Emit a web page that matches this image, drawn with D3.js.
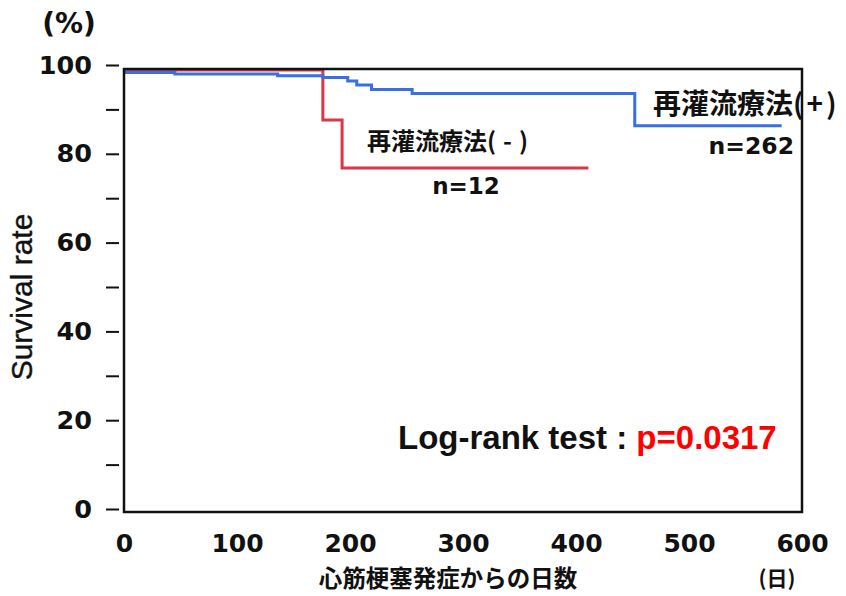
<!DOCTYPE html>
<html><head><meta charset="utf-8">
<script src="https://cdn.jsdelivr.net/npm/d3@7"></script>
<style>body{margin:0;background:#fff}svg{display:block}</style>
</head><body>
<svg id="c" width="846" height="596"></svg>
<script>
// ---- data ----
const blueDays = [0, 45, 136, 176, 198, 206, 219, 255, 452, 582];
const blueSurv = [98.3, 98.0, 97.6, 97.2, 96.4, 95.5, 94.5, 93.6, 86.3, 86.3];
const redDays = [0, 176, 193, 411];
const redSurv = [98.9, 87.6, 76.8, 76.8];
const yTicks = [0, 10, 20, 30, 40, 50, 60, 70, 80, 90, 100];
const yLabels = [0, 20, 40, 60, 80, 100];
const xTicks = [0, 100, 200, 300, 400, 500, 600];
const labelPlus = "再灌流療法";
const labelMinus = "再灌流療法";
const nPlus = "n=262";
const nMinus = "n=12";

const svg = d3.select("#c");
const x = d3.scaleLinear().domain([0, 600]).range([124, 802]);
const y = d3.scaleLinear().domain([0, 100]).range([509, 65]);

const numFont = "'DejaVu Sans', Verdana, sans-serif";
const cjkFont = "'Noto Sans CJK JP', sans-serif";

// curves
function stepPts(days, surv) { return days.map((d, i) => [d, surv[i]]); }
const line = d3.line().x(d => x(d[0])).y(d => y(d[1])).curve(d3.curveStepAfter);
svg.append("path").datum(stepPts(redDays, redSurv)).attr("d", line)
  .attr("fill", "none").attr("stroke", "#dc3545").attr("stroke-width", 3);
svg.append("path").datum(stepPts(blueDays, blueSurv)).attr("d", line)
  .attr("fill", "none").attr("stroke", "#3a6ee3").attr("stroke-width", 3);

// frame
svg.append("rect").attr("x", x(0)).attr("y", 69).attr("width", x(600) - x(0)).attr("height", 512 - 69)
  .attr("fill", "none").attr("stroke", "#111").attr("stroke-width", 2.5);

// y axis
const ya = svg.append("g").attr("transform", "translate(119,0)")
  .call(d3.axisLeft(y).tickValues(yTicks).tickSize(13).tickPadding(14)
    .tickFormat(d => yLabels.includes(d) ? d : ""));
ya.select(".domain").remove();
ya.selectAll("line").attr("stroke", "#111").attr("stroke-width", 2);
ya.selectAll("text").attr("font-family", numFont).attr("font-weight", "bold").attr("font-size", 25.5).attr("fill", "#111");

// x axis
const xa = svg.append("g").attr("transform", "translate(0,512)")
  .call(d3.axisBottom(x).tickValues(xTicks).tickSize(0).tickPadding(22));
xa.select(".domain").remove();
xa.selectAll("text").attr("font-family", numFont).attr("font-weight", "bold").attr("font-size", 25).attr("fill", "#111");

// axis titles
svg.append("text").attr("x", 69).attr("y", 33).attr("text-anchor", "middle")
  .attr("font-family", numFont).attr("font-weight", "bold").attr("font-size", 28).attr("fill", "#111").text("(%)");
svg.append("text").attr("transform", "translate(32,297) rotate(-90)").attr("text-anchor", "middle")
  .attr("font-family", "'Liberation Sans', Arial, sans-serif").attr("font-size", 30).attr("fill", "#111")
  .attr("stroke", "#111").attr("stroke-width", 0.4).text("Survival rate");
svg.append("text").attr("x", 448).attr("y", 587).attr("text-anchor", "middle")
  .attr("font-family", cjkFont).attr("font-weight", "bold").attr("font-size", 23.5).attr("fill", "#111").text("心筋梗塞発症からの日数");
svg.append("text").attr("x", 777).attr("y", 586).attr("text-anchor", "middle")
  .attr("font-family", cjkFont).attr("font-weight", "bold").attr("font-size", 21).attr("fill", "#111").text("(日)");

// group labels
const tm = svg.append("text").attr("x", 367).attr("y", 150)
  .attr("font-family", cjkFont).attr("font-weight", "bold").attr("font-size", 24).attr("fill", "#111");
tm.append("tspan").text(labelMinus);
tm.append("tspan").attr("letter-spacing", 7).text("(-)");
svg.append("text").attr("x", 466).attr("y", 194).attr("text-anchor", "middle")
  .attr("font-family", numFont).attr("font-weight", "bold").attr("font-size", 23).attr("fill", "#111").text(nMinus);

const tp = svg.append("text").attr("x", 653).attr("y", 114)
  .attr("font-family", cjkFont).attr("font-weight", "bold").attr("font-size", 28).attr("fill", "#111");
tp.append("tspan").text(labelPlus);
tp.append("tspan").attr("letter-spacing", 3).text("(+)");
svg.append("text").attr("x", 794).attr("y", 154).attr("text-anchor", "end")
  .attr("font-family", numFont).attr("font-weight", "bold").attr("font-size", 23.5).attr("fill", "#111").text(nPlus);

// log-rank
const lr = svg.append("text").attr("x", 398).attr("y", 449)
  .attr("font-family", "'Liberation Sans', Arial, sans-serif").attr("font-weight", "bold").attr("font-size", 33);
lr.append("tspan").attr("fill", "#111").text("Log-rank test : ");
lr.append("tspan").attr("fill", "#ff0000").text("p=0.0317");
</script>
</body></html>
